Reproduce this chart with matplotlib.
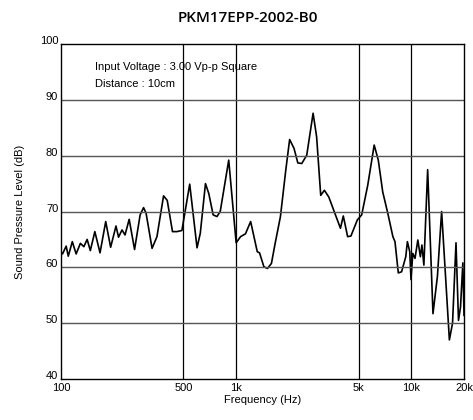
import matplotlib
matplotlib.use('Agg')
import matplotlib.pyplot as plt
import numpy as np

# frequency response (Hz, dB)
freq = [100, 102, 107, 110, 116, 122, 129, 135, 141, 147, 156, 167, 180, 192, 206, 213,
        223, 232, 245, 263, 283, 296, 306, 331, 353, 385, 404, 433, 459, 490, 543, 598,
        624, 668, 698, 739, 777, 811, 907, 1000, 1060, 1130, 1210, 1320, 1360, 1440, 1510,
        1590, 1670, 1790, 1920, 2020, 2140, 2250, 2370, 2530, 2750, 2880, 3040, 3190, 3380,
        3600, 3940, 4090, 4330, 4520, 4920, 5210, 5640, 6140, 6480, 6870, 7340, 7850, 8070,
        8430, 8800, 9300, 9500, 9800, 9960, 10200, 10500, 10900, 11270, 11500, 11800, 12400,
        13300, 14100, 14900, 16500, 17200, 18000, 18600, 19100, 19700, 20000]
spl = [62.8, 62.4, 63.8, 62.0, 64.6, 62.4, 64.3, 63.7, 65.0, 63.0, 66.4, 62.6, 68.2, 63.6,
       67.4, 65.4, 66.7, 65.8, 68.6, 63.2, 69.4, 70.7, 69.7, 63.4, 65.5, 72.8, 72.0, 66.4,
       66.4, 66.6, 74.9, 63.5, 66.1, 75.0, 73.2, 69.4, 69.1, 70.0, 79.2, 64.4, 65.5, 66.0,
       68.2, 62.8, 62.6, 60.1, 59.8, 60.7, 64.3, 69.1, 77.4, 82.9, 81.3, 78.7, 78.6, 80.1,
       87.6, 83.4, 72.9, 73.8, 72.6, 70.3, 67.0, 69.2, 65.5, 65.6, 68.5, 69.4, 74.7, 81.9,
       79.2, 73.5, 69.7, 65.5, 64.6, 59.0, 59.2, 61.9, 64.6, 62.8, 57.8, 62.5, 61.6, 64.9,
       61.9, 64.0, 60.4, 77.5, 51.7, 58.4, 70.0, 47.0, 50.0, 64.4, 50.5, 52.9, 60.8, 51.4]

xticks = [100, 500, 1000, 5000, 10000, 20000]
xticklabels = ['100', '500', '1k', '5k', '10k', '20k']
yticks = [40, 50, 60, 70, 80, 90, 100]

plt.rcParams['font.family'] = ['Liberation Sans', 'DejaVu Sans']

fig = plt.figure(figsize=(4.73, 4.2), dpi=100)
ax = fig.add_axes([0.129, 0.0976, 0.852, 0.7976])

ax.semilogx(freq, spl, color='black', lw=1.2)
ax.set_xlim(100, 20000)
ax.set_ylim(40, 100)

for f in [500, 1000, 5000, 10000]:
    ax.axvline(f, color='black', lw=0.9)
for v in [50, 60, 70, 80, 90]:
    ax.axhline(v, color='#555555', lw=1.0)

ax.set_xticks(xticks)
ax.set_xticklabels(xticklabels)
ax.xaxis.set_minor_locator(matplotlib.ticker.NullLocator())
ax.set_yticks(yticks)
ax.tick_params(labelsize=8, length=0)
ax.tick_params(axis='x', pad=3)
ax.tick_params(axis='y', pad=2)
for lbl in ax.get_yticklabels():
    lbl.set_verticalalignment('baseline')
for s in ax.spines.values():
    s.set_linewidth(1.0)

ax.set_xlabel('Frequency (Hz)', fontsize=8, labelpad=1)
ax.set_ylabel('Sound Pressure Level (dB)', fontsize=8)
ax.yaxis.set_label_coords(-0.09, 0.5)

ax.text(0.085, 0.93, 'Input Voltage : 3.00 Vp-p Square', transform=ax.transAxes,
        fontsize=8, va='center')
ax.text(0.085, 0.882, 'Distance : 10cm', transform=ax.transAxes, fontsize=8, va='center')

fig.text(248 / 473, 1 - 18 / 420, 'PKM17EPP-2002-B0', ha='center', va='center',
         fontsize=11, fontweight='semibold', family='Open Sans')

fig.savefig('out.png', dpi=100)
